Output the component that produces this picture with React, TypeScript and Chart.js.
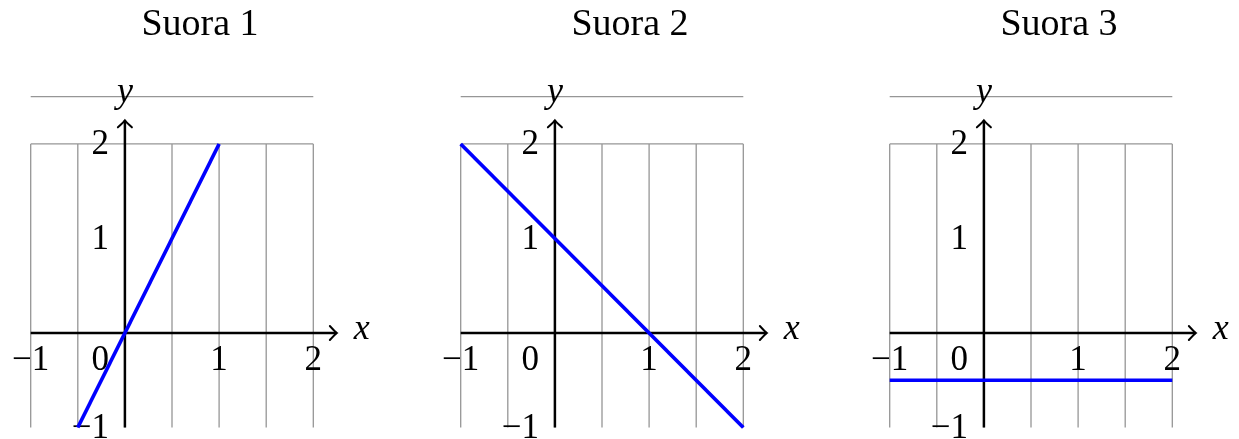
import React, { useEffect, useRef } from "react";
import { Chart, registerables } from "chart.js";

Chart.register(...registerables);

// ---- data ----
const titles = ["Suora 1", "Suora 2", "Suora 3"];
const line1X = [-0.5, 1];
const line1Y = [-1, 2];
const line2X = [-1, 2];
const line2Y = [2, -1];
const line3X = [-1, 2];
const line3Y = [-0.5, -0.5];
const seriesX = [line1X, line2X, line3X];
const seriesY = [line1Y, line2Y, line3Y];
const xTickValues = [-1, 1, 2];
const yTickValues = [-1, 1, 2];
const originLabel = "0";
const gridXValues = [-1, -0.5, 0, 0.5, 1, 1.5, 2];
const gridYValues = [2, 2.5];
const xMin = -1;
const xMax = 2;
const yMin = -1;
const yMax = 2.5;
const axisEnd = 2.25;

const fmt = (v: number) => (v < 0 ? "\u2212" + Math.abs(v) : String(v));

const FONT = '"Liberation Serif", "Times New Roman", serif';
const CANVAS_W = 400;
const CANVAS_H = 439;
const PANEL_LEFT = [0, 430, 859.3];

function makePlugin(title: string) {
  return {
    id: "pgfLike",
    beforeDatasetsDraw(chart: any) {
      const ctx = chart.ctx as CanvasRenderingContext2D;
      const xs = chart.scales.x;
      const ys = chart.scales.y;
      const px = (v: number) => xs.getPixelForValue(v);
      const py = (v: number) => ys.getPixelForValue(v);
      ctx.save();
      // grid
      ctx.strokeStyle = "#969696";
      ctx.lineWidth = 1.3;
      ctx.beginPath();
      for (const g of gridXValues) {
        ctx.moveTo(px(g), py(yMin));
        ctx.lineTo(px(g), py(2));
      }
      for (const g of gridYValues) {
        ctx.moveTo(px(xMin), py(g));
        ctx.lineTo(px(xMax), py(g));
      }
      ctx.stroke();

      // axes
      ctx.strokeStyle = "#000";
      ctx.lineWidth = 2.5;
      const x0 = px(0);
      const y0 = py(0);
      const xTip = px(axisEnd);
      const yTip = py(axisEnd);
      ctx.beginPath();
      ctx.moveTo(px(xMin), y0);
      ctx.lineTo(xTip, y0);
      ctx.moveTo(x0, py(yMin));
      ctx.lineTo(x0, yTip);
      ctx.stroke();
      // arrow heads
      ctx.lineWidth = 2;
      ctx.lineCap = "round";
      ctx.beginPath();
      ctx.moveTo(xTip - 7, y0 - 7);
      ctx.quadraticCurveTo(xTip - 2, y0 - 1.5, xTip, y0);
      ctx.quadraticCurveTo(xTip - 2, y0 + 1.5, xTip - 7, y0 + 7);
      ctx.moveTo(x0 - 7, yTip + 7);
      ctx.quadraticCurveTo(x0 - 1.5, yTip + 2, x0, yTip);
      ctx.quadraticCurveTo(x0 + 1.5, yTip + 2, x0 + 7, yTip + 7);
      ctx.stroke();

      // tick labels
      ctx.fillStyle = "#000";
      ctx.font = `35px ${FONT}`;
      ctx.textBaseline = "middle";
      ctx.textAlign = "center";
      for (const v of xTickValues) {
        ctx.fillText(fmt(v), px(v), y0 + 28);
      }
      ctx.textAlign = "right";
      for (const v of yTickValues) {
        ctx.fillText(fmt(v), x0 - 16, py(v) + 1);
      }
      ctx.fillText(originLabel, x0 - 16, y0 + 28);

      // axis labels
      ctx.font = `italic 36px ${FONT}`;
      ctx.textAlign = "center";
      ctx.fillText("y", x0, yTip - 28);
      ctx.textAlign = "left";
      ctx.fillText("x", xTip + 17, y0 - 3);

      // title
      ctx.font = `38px ${FONT}`;
      ctx.textAlign = "center";
      ctx.textBaseline = "alphabetic";
      ctx.fillText(title, 200, 35);
      ctx.restore();
    },
  };
}

function Panel({ index }: { index: number }) {
  const ref = useRef<HTMLCanvasElement | null>(null);
  useEffect(() => {
    if (!ref.current) return;
    const xsArr = seriesX[index];
    const ysArr = seriesY[index];
    const chart = new Chart(ref.current, {
      type: "line",
      data: {
        datasets: [
          {
            data: xsArr.map((x, i) => ({ x, y: ysArr[i] })),
            borderColor: "#0000ff",
            borderWidth: 3.7,
            pointRadius: 0,
            fill: false,
            tension: 0,
            clip: false as any,
          },
        ],
      },
      options: {
        responsive: false,
        animation: false,
        events: [],
        layout: {
          padding: { left: 30.7, right: CANVAS_W - 313.3, top: 96.7, bottom: CANVAS_H - 427.5 },
        },
        plugins: { legend: { display: false }, tooltip: { enabled: false }, title: { display: false } },
        scales: {
          x: { type: "linear", min: xMin, max: xMax, display: false },
          y: { type: "linear", min: yMin, max: yMax, display: false },
        },
      },
      plugins: [makePlugin(titles[index])],
    });
    return () => chart.destroy();
  }, [index]);
  return (
    <canvas
      ref={ref}
      width={CANVAS_W}
      height={CANVAS_H}
      style={{ position: "absolute", left: PANEL_LEFT[index], top: 0, width: CANVAS_W, height: CANVAS_H, display: "block" }}
    />
  );
}

export default function App() {
  return (
    <div
      style={{
        position: "absolute",
        left: 0,
        top: 0,
        width: 1239,
        height: 439,
        overflow: "hidden",
        background: "#fff",
      }}
    >
      {titles.map((_, i) => (
        <Panel key={i} index={i} />
      ))}
    </div>
  );
}
